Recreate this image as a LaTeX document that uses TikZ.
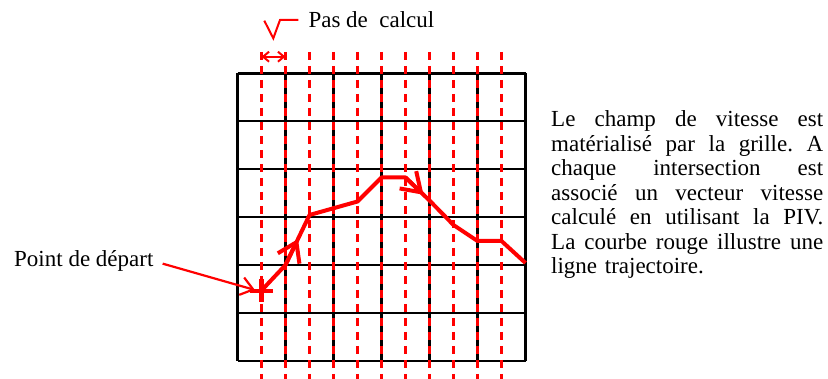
\documentclass[tikz,border=0pt]{standalone}
\usepackage{fontspec}
\setmainfont{Liberation Serif}
\usetikzlibrary{arrows.meta,calc}
\newcommand{\ligneJust}[1]{\makebox[272pt][s]{\spaceskip=.25em plus 1fil\xspaceskip=.25em plus 1fil\relax #1}}

\begin{document}
\begin{tikzpicture}[x=1pt, y=-1pt,
    gridline/.style={draw=black, line width=2.2pt},
    pasline/.style={draw=red, line width=2.2pt, dash pattern=on 8pt off 6pt},
    traj/.style={draw=red, line width=4pt, line join=round},
    redarrow/.style={draw=red, line width=2.2pt},
    texte/.style={font=\fontsize{23}{24.5}\selectfont, inner sep=0pt}
]
    \useasboundingbox (0,0) rectangle (828,379);

    % Grille du champ de vitesse
    \foreach \i in {0,...,6} {
        \draw[gridline] (237.5+48*\i, 73.5) -- (237.5+48*\i, 361);
        \draw[gridline] (237.5, 73.5+47.9*\i) -- (525.5, 73.5+47.9*\i);
    }

    % Lignes du pas de calcul
    \foreach \k in {0,...,10}
        \draw[pasline] (261.5+24*\k, 52) -- (261.5+24*\k, 379);

    % Trajectoire
    \coordinate (t0) at (261.5,290.5);
    \coordinate (t1) at (285.5,265);
    \coordinate (t2) at (309.5,215);
    \coordinate (t3) at (357.5,201.5);
    \coordinate (t4) at (381.5,177.5);
    \coordinate (t5) at (405.5,177.5);
    \coordinate (t6) at (429.5,200.5);
    \coordinate (t7) at (453.5,225);
    \coordinate (t8) at (477.5,241);
    \coordinate (t9) at (501.5,241);
    \coordinate (t10) at (525.5,263);
    \draw[traj] (t0) -- (t1) -- (t2) -- (t3) -- (t4) -- (t5) -- (t6) -- (t7) -- (t8) -- (t9) -- (t10);
    \draw[traj, -{Straight Barb[length=18pt,width=24pt]}] (t1) -- ($(t1)!0.52!(t2)$);
    \draw[traj, -{Straight Barb[length=18pt,width=24pt]}] (t5) -- ($(t5)!0.75!(t6)$);

    % Point de depart
    \draw[red, line width=4.5pt] (250,291) -- (273,291);
    \draw[red, line width=4.5pt] (261.5,279) -- (261.5,302);
    \node[texte, anchor=base west] (depart) at (14,266.7) {Point de départ};
    \coordinate (departTip) at (255,290);
    \draw[redarrow, -{Straight Barb[length=12pt,width=18pt]}] ([shift={(9,2.5)}]depart.east) -- (departTip);

    % Pas de calcul
    \node[texte, anchor=base west] (pas) at (308.3,27.7) {Pas de\ \ calcul};
    \coordinate (pasTip) at (273.3,38.3);
    \draw[redarrow, line width=2pt] ([xshift=-10pt]pas.west) -- (280,20) -- (pasTip) -- (264.3,20.7);
    \coordinate (pasA) at (261.5,56.7);
    \coordinate (pasB) at (285.5,56.7);
    \draw[red, line width=2pt, {Straight Barb[length=6pt,width=10pt]}-{Straight Barb[length=6pt,width=10pt]}] (pasA) -- (pasB);

    % Texte explicatif
    \node[texte, anchor=base west, text width=272pt] (legende) at (551,127) {
        \ligneJust{Le champ de vitesse est}\\
        \ligneJust{matérialisé par la grille. A}\\
        \ligneJust{chaque intersection est}\\
        \ligneJust{associé un vecteur vitesse}\\
        \ligneJust{calculé en utilisant la PIV.}\\
        \ligneJust{La courbe rouge illustre une}\\
        ligne trajectoire.};

\end{tikzpicture}
\end{document}
